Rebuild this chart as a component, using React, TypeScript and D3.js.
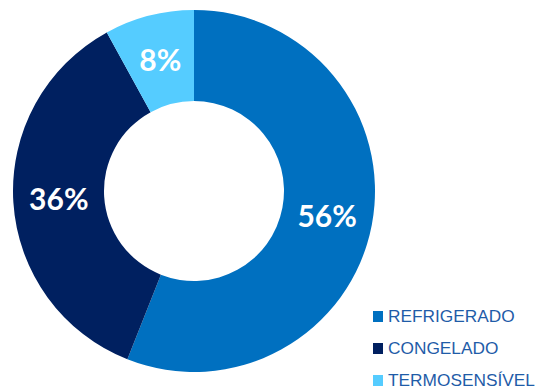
import React from "react";
import * as d3 from "d3";

const categories = ["REFRIGERADO", "CONGELADO", "TERMOSENSÍVEL"];
const values = [56, 36, 8];
const labels = ["56%", "36%", "8%"];
const colors = ["#0070C0", "#002060", "#55CCFF"];

export default function App() {
  const W = 539, H = 391;
  const cx = 194, cy = 191, R = 181, r = 90;
  const pie = d3.pie<number>().sort(null).value((d) => d)(values);
  const arc = d3.arc<d3.PieArcDatum<number>>().innerRadius(r).outerRadius(R);
  return (
    <svg width={W} height={H} style={{ position: "absolute", left: 0, top: 0 }}>
      <g transform={`translate(${cx},${cy})`}>
        {pie.map((p, i) => (
          <path key={i} d={arc(p) || ""} fill={colors[i]} />
        ))}
        {pie.map((p, i) => {
          const [x, y] = arc.centroid(p);
          return (
            <text key={"t" + i} x={x} y={y} dy="0.36em" textAnchor="middle" fill="#fff"
              fontFamily="Lato, sans-serif" fontWeight="bold" fontSize={30}>
              {labels[i]}
            </text>
          );
        })}
      </g>
      {categories.map((c, i) => (
        <g key={c} transform={`translate(373,${322 + i * 32})`}>
          <rect x={0} y={-11} width={10} height={11} fill={colors[i]} />
          <text x={15} y={0} fill="#1F5CA8" fontFamily="'Liberation Sans', Arial, sans-serif" fontSize={17.3}>
            {c}
          </text>
        </g>
      ))}
    </svg>
  );
}
